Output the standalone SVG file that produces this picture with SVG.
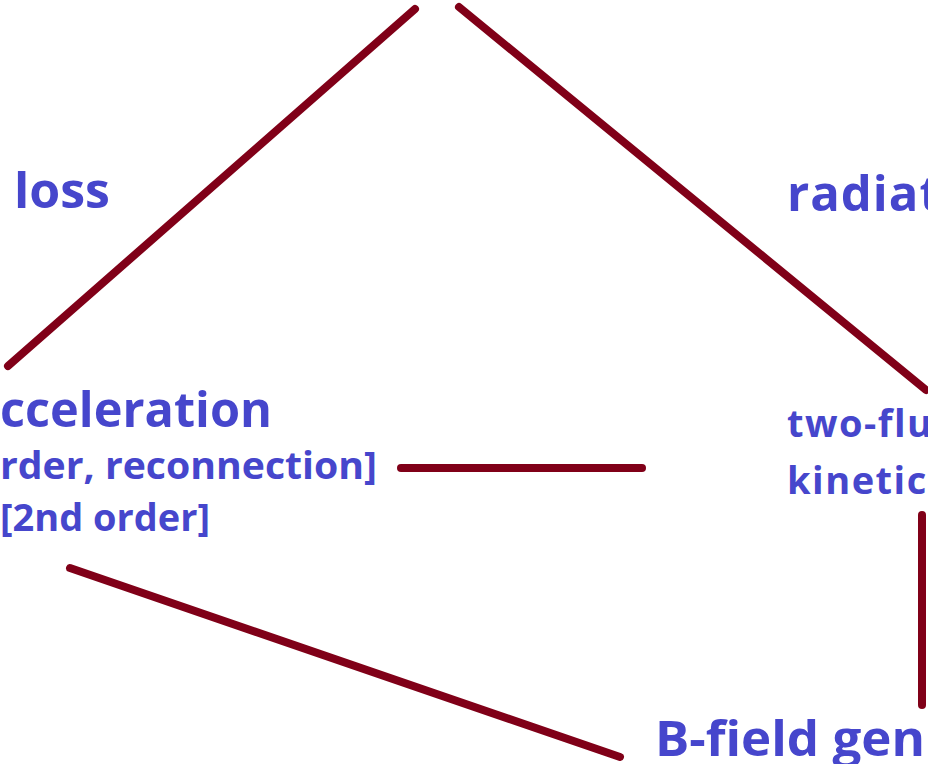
<svg xmlns="http://www.w3.org/2000/svg" width="928" height="764" viewBox="0 0 928 764">
<style>
.t{font-family:"Open Sans","Noto Sans","Liberation Sans",sans-serif;font-weight:bold;fill:#4646cc}
.big{font-size:49px}
.mid{font-size:38px}
.c{stroke:#800018;stroke-width:8;stroke-linecap:round;fill:none}
</style>
<rect width="928" height="764" fill="#ffffff"/>
<g id="connectors">
<line class="c" x1="415" y1="9" x2="8" y2="366"/>
<line class="c" x1="459" y1="7" x2="926" y2="390"/>
<line class="c" x1="401" y1="468" x2="642" y2="468"/>
<line class="c" x1="922" y1="515" x2="922" y2="705"/>
<line class="c" x1="70" y1="568" x2="620" y2="757"/>
</g>
<g id="loss"><text class="t big" x="14" y="208" textLength="96" lengthAdjust="spacingAndGlyphs">loss</text></g>
<g id="radiation"><text class="t big" x="787" y="211" letter-spacing="1">radiat</text></g>
<g id="acceleration">
<text class="t big" x="0" y="427" textLength="272" lengthAdjust="spacingAndGlyphs">cceleration</text>
<text class="t mid" x="0" y="479" textLength="377" lengthAdjust="spacingAndGlyphs">rder, reconnection]</text>
<text class="t mid" x="0" y="531" textLength="210" lengthAdjust="spacingAndGlyphs">[2nd order]</text>
</g>
<g id="twofluid">
<text class="t mid" x="787" y="437" font-size="39" letter-spacing="1.5">two-flu</text>
<text class="t mid" x="787" y="494" font-size="39" letter-spacing="1.5">kinetic</text>
</g>
<g id="bfield"><text class="t big" x="655" y="756" textLength="270" lengthAdjust="spacingAndGlyphs">B-field gen</text></g>
</svg>
